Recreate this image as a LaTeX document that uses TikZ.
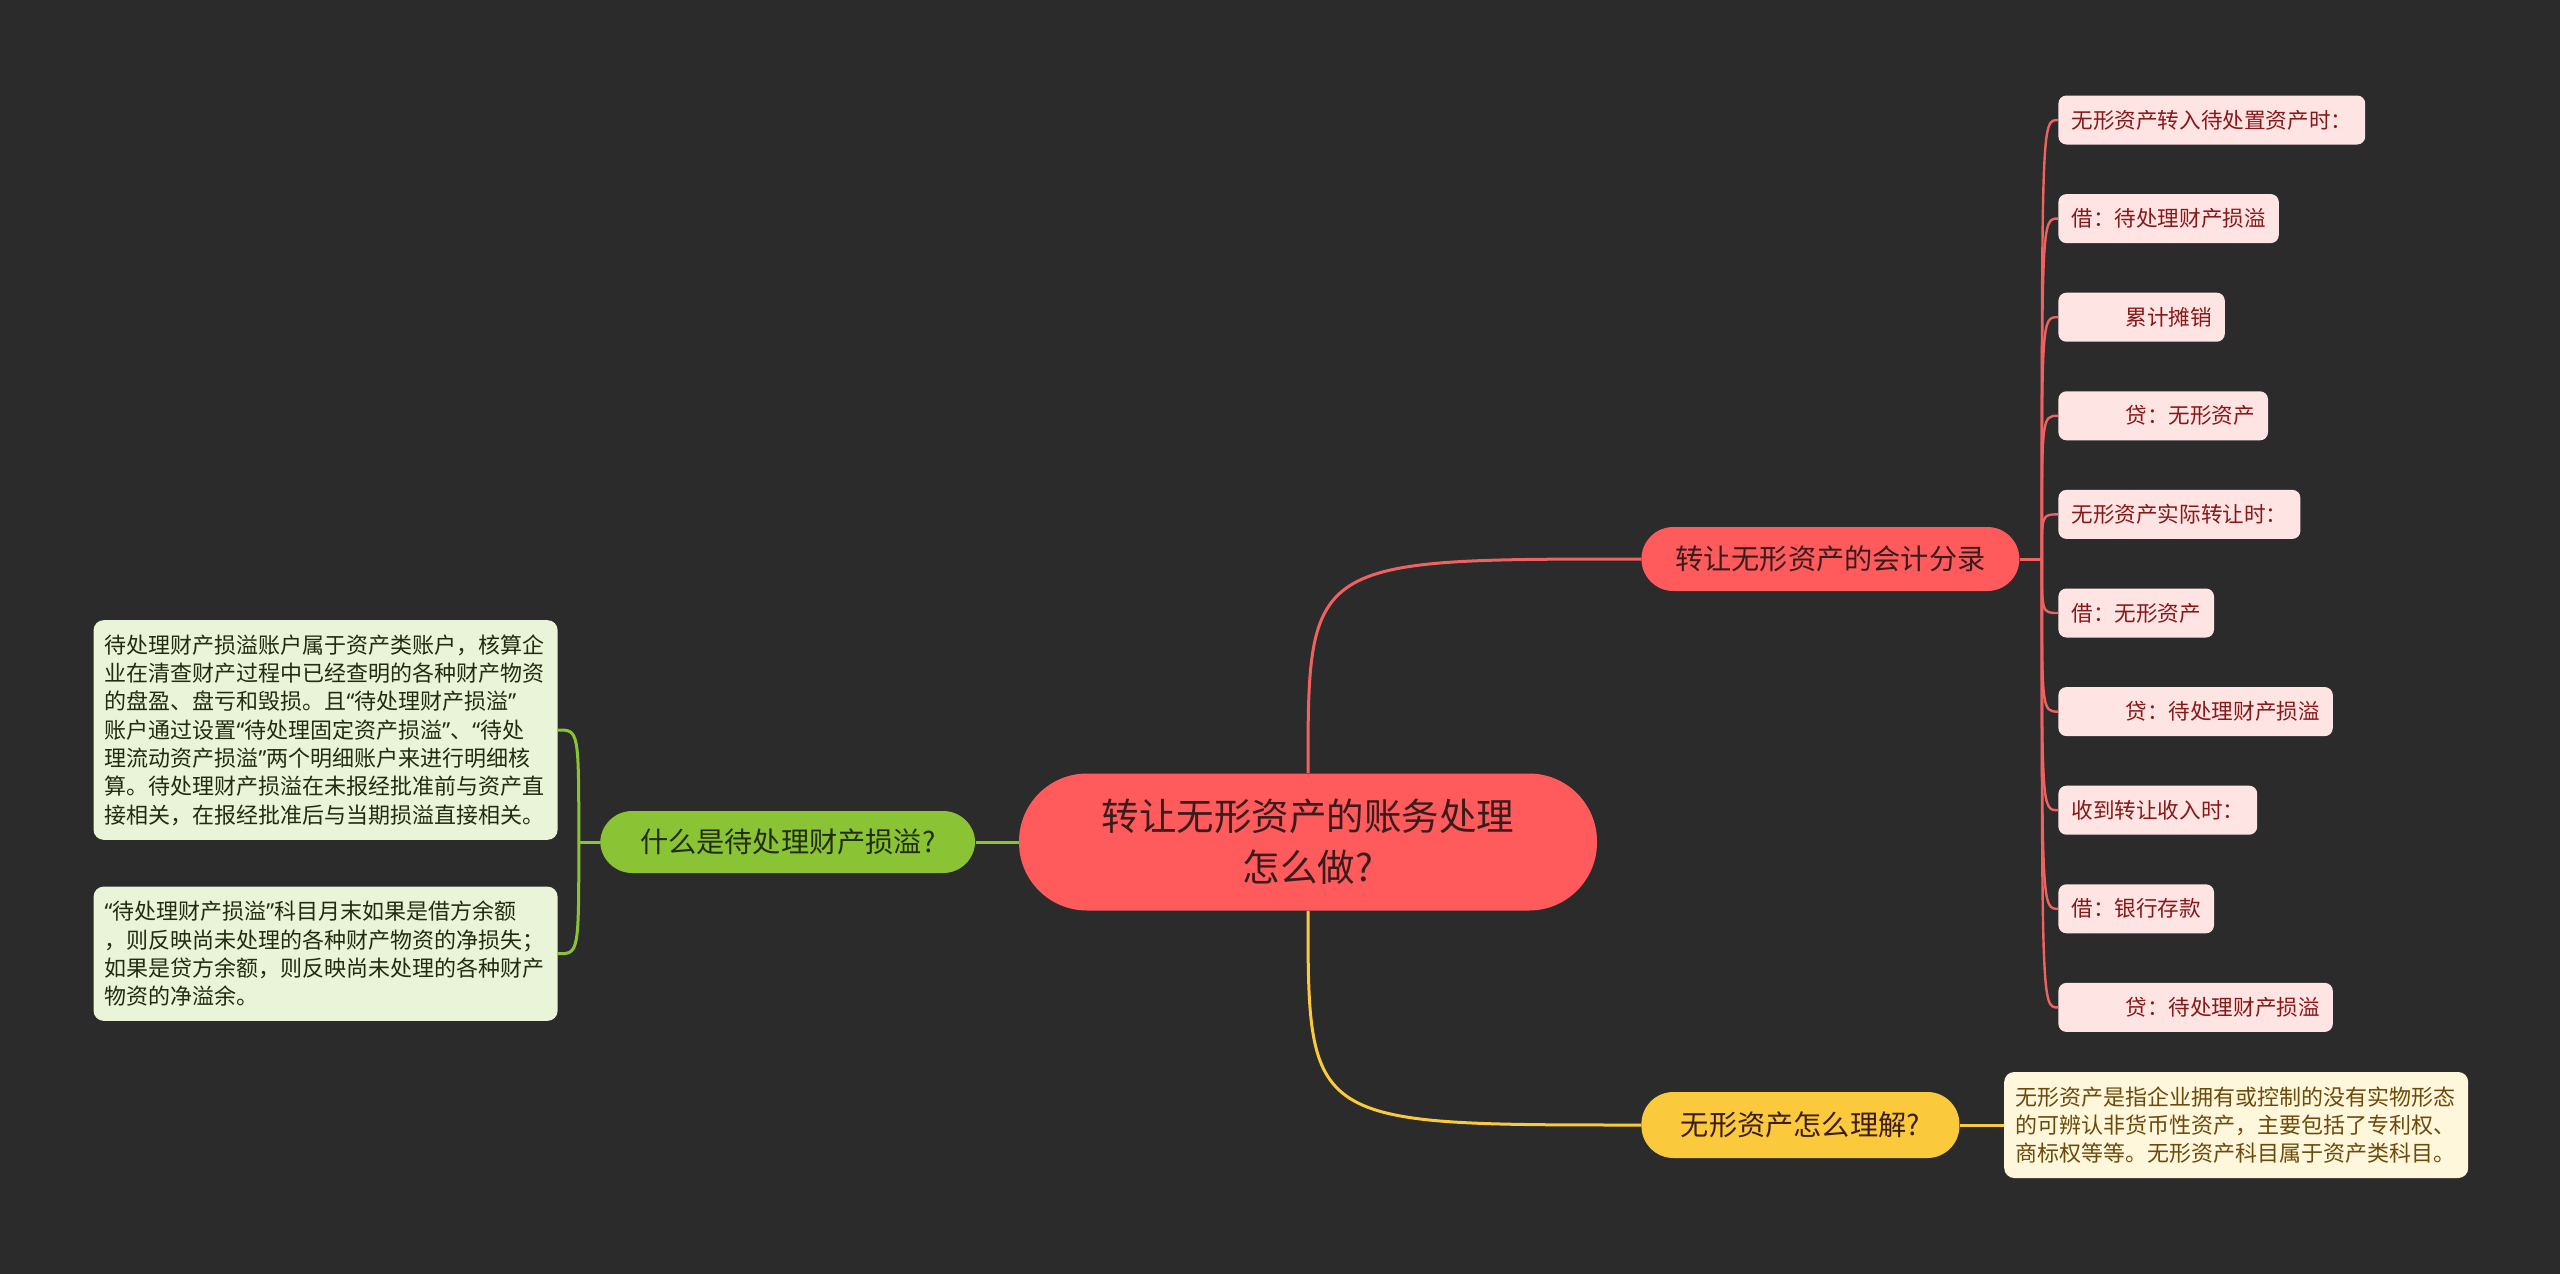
\documentclass[tikz,border=0pt]{standalone}
\usepackage{fontspec}
\setmainfont{Noto Sans CJK SC}
\newfontfamily\quotefont{Noto Sans}
\newcommand{\qopen}{{\quotefont “}}
\newcommand{\qclose}{{\quotefont ”}}
\usepackage{tikz}
\usetikzlibrary{positioning}
\definecolor{bgDark}{RGB}{43, 43, 43}
\definecolor{mainRed}{RGB}{255, 90, 92}
\definecolor{lineRed}{RGB}{240, 98, 98}
\definecolor{rootText}{RGB}{58, 28, 28}
\definecolor{leafPink}{RGB}{255, 228, 228}
\definecolor{leafRedText}{RGB}{135, 24, 24}
\definecolor{grassGreen}{RGB}{138, 196, 52}
\definecolor{greenLeaf}{RGB}{234, 244, 216}
\definecolor{greenText}{RGB}{34, 44, 16}
\definecolor{sunYellow}{RGB}{250, 201, 60}
\definecolor{yellowLeaf}{RGB}{255, 247, 220}
\definecolor{yellowText}{RGB}{108, 74, 10}

\begin{document}
\begin{tikzpicture}[x=0.5pt, y=-0.5pt,
      rootbox/.style={rectangle, fill=mainRed, text=rootText, rounded corners=34pt, minimum width=289pt, minimum height=68.5pt, align=center, font=\fontsize{18.75}{25.5}\selectfont},
      branchbox/.style={rectangle, rounded corners=16pt, minimum height=32pt, inner xsep=4pt, font=\fontsize{14.1}{17}\selectfont},
      redleaf/.style={rectangle, fill=leafPink, text=leafRedText, rounded corners=4pt, minimum height=24.5pt, inner xsep=6.5pt, inner ysep=2pt, font=\fontsize{10.8}{13}\selectfont},
      noteleaf/.style={rectangle, rounded corners=5pt, text width=221pt, inner xsep=5.5pt, inner ysep=7.2pt, align=left, font=\fontsize{11}{14.15}\selectfont},
      link/.style={line width=1.5pt},
      leaflink/.style={line width=1.2pt, lineRed}]

      \fill[bgDark] (0,0) rectangle (2560,1274);
      \useasboundingbox (0,0) rectangle (2560,1274);

      \node[rootbox] (root) at (1308,842) {转让无形资产的账务处理\\怎么做?};

      \node[branchbox, fill=mainRed, text=rootText, minimum width=189pt, anchor=west] (b1) at (1641,559) {转让无形资产的会计分录};

      \node[branchbox, fill=grassGreen, text=greenText, minimum width=187.5pt, minimum height=31pt, left=21.5pt of root] (b2) {什么是待处理财产损溢?};

      \node[branchbox, fill=sunYellow, text=rootText, minimum width=159pt, minimum height=33pt, anchor=west] (b3) at (1641,1125) {无形资产怎么理解?};

      \coordinate[right=11pt of b1.east] (hubR);
      \coordinate[left=10.5pt of b2.west] (hubG);

      \node[redleaf, anchor=west] (r1) at (2058,120) {无形资产转入待处置资产时：};
      \node[redleaf, below=24.4pt of r1.south west, anchor=north west] (r2) {借：待处理财产损溢};
      \node[redleaf, below=24.4pt of r2.south west, anchor=north west] (r3) {\hspace*{2.5em}累计摊销};
      \node[redleaf, below=24.4pt of r3.south west, anchor=north west] (r4) {\hspace*{2.5em}贷：无形资产};
      \node[redleaf, below=24.4pt of r4.south west, anchor=north west] (r5) {无形资产实际转让时：};
      \node[redleaf, below=24.4pt of r5.south west, anchor=north west] (r6) {借：无形资产};
      \node[redleaf, below=24.4pt of r6.south west, anchor=north west] (r7) {\hspace*{2.5em}贷：待处理财产损溢};
      \node[redleaf, below=24.4pt of r7.south west, anchor=north west] (r8) {收到转让收入时：};
      \node[redleaf, below=24.4pt of r8.south west, anchor=north west] (r9) {借：银行存款};
      \node[redleaf, below=24.4pt of r9.south west, anchor=north west] (r10) {\hspace*{2.5em}贷：待处理财产损溢};

      \node[noteleaf, fill=greenLeaf, text=greenText, anchor=east] (g1) at (558,730) {待处理财产损溢账户属于资产类账户，核算企\\业在清查财产过程中已经查明的各种财产物资\\的盘盈、盘亏和毁损。且\qopen 待处理财产损溢\qclose\\账户通过设置\qopen 待处理固定资产损溢\qclose 、\qopen 待处\\理流动资产损溢\qclose 两个明细账户来进行明细核\\算。待处理财产损溢在未报经批准前与资产直\\接相关，在报经批准后与当期损溢直接相关。};
      \node[noteleaf, fill=greenLeaf, text=greenText, below=23pt of g1.south east, anchor=north east] (g2) {\qopen 待处理财产损溢\qclose 科目月末如果是借方余额\\，则反映尚未处理的各种财产物资的净损失；\\如果是贷方余额，则反映尚未处理的各种财产\\物资的净溢余。};

      \node[noteleaf, fill=yellowLeaf, text=yellowText, right=22pt of b3] (y1) {无形资产是指企业拥有或控制的没有实物形态\\的可辨认非货币性资产，主要包括了专利权、\\商标权等等。无形资产科目属于资产类科目。};

      \draw[link, lineRed] (root.north) .. controls (root.north |- b1.west) .. (b1.west);
      \draw[link, grassGreen] (root.west) -- (b2.east);
      \draw[link, sunYellow] (root.south) .. controls (root.south |- b3.west) .. (b3.west);

      \draw[link, lineRed] (b1.east) -- (hubR);
      \draw[leaflink] (hubR) .. controls (hubR |- r1.west) .. (r1.west);
      \draw[leaflink] (hubR) .. controls (hubR |- r2.west) .. (r2.west);
      \draw[leaflink] (hubR) .. controls (hubR |- r3.west) .. (r3.west);
      \draw[leaflink] (hubR) .. controls (hubR |- r4.west) .. (r4.west);
      \draw[leaflink] (hubR) .. controls (hubR |- r5.west) .. (r5.west);
      \draw[leaflink] (hubR) .. controls (hubR |- r6.west) .. (r6.west);
      \draw[leaflink] (hubR) .. controls (hubR |- r7.west) .. (r7.west);
      \draw[leaflink] (hubR) .. controls (hubR |- r8.west) .. (r8.west);
      \draw[leaflink] (hubR) .. controls (hubR |- r9.west) .. (r9.west);
      \draw[leaflink] (hubR) .. controls (hubR |- r10.west) .. (r10.west);

      \draw[link, grassGreen] (b2.west) -- (hubG);
      \draw[link, grassGreen] (hubG) .. controls (hubG |- g1.east) .. (g1.east);
      \draw[link, grassGreen] (hubG) .. controls (hubG |- g2.east) .. (g2.east);

      \draw[link, sunYellow] (b3.east) -- (y1.west);
  \end{tikzpicture}
\end{document}
